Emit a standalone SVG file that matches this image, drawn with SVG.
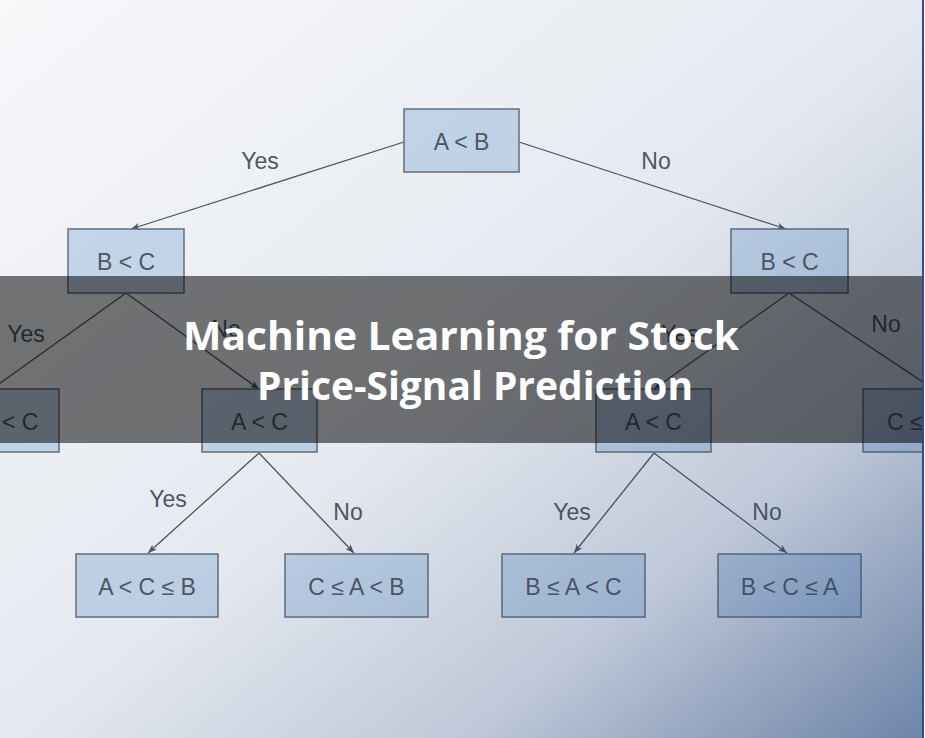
<svg xmlns="http://www.w3.org/2000/svg" width="925" height="738" viewBox="0 0 925 738">
<defs>
<linearGradient id="tint" x1="0" y1="0" x2="1" y2="1">
<stop offset="0" stop-color="#2a4a80" stop-opacity="0.04"/>
<stop offset="0.5" stop-color="#2a4a80" stop-opacity="0.12"/>
<stop offset="0.75" stop-color="#2a4a80" stop-opacity="0.3"/>
<stop offset="1" stop-color="#2a4a80" stop-opacity="0.68"/>
</linearGradient>
<marker id="arr" markerWidth="10" markerHeight="8" refX="9" refY="4" orient="auto" markerUnits="userSpaceOnUse">
<path d="M0,0.5 L9,4 L0,7.5 L2.5,4 Z" fill="#4f555c"/>
</marker>
<style>
.box{fill:#cfe0f1;stroke:#6b7178;stroke-width:1.5}
.nt{font-family:"Liberation Sans",Arial,sans-serif;font-size:23px;fill:#52575e;text-anchor:middle}
.el{font-family:"Liberation Sans",Arial,sans-serif;font-size:23px;fill:#52575e;text-anchor:middle}
.edge{stroke:#4f555c;stroke-width:1.3;fill:none}
.title{font-family:"Open Sans","DejaVu Sans",sans-serif;font-weight:700;font-size:40px;fill:#ffffff;text-anchor:middle}
</style>
</defs>
<rect x="0" y="0" width="925" height="738" fill="#ffffff"/>
<g id="connectors">
<line class="edge" x1="404" y1="142" x2="131" y2="229" marker-end="url(#arr)"/>
<line class="edge" x1="519" y1="142" x2="786" y2="229" marker-end="url(#arr)"/>
<line class="edge" x1="126" y1="293" x2="-8" y2="389"/>
<line class="edge" x1="126" y1="293" x2="259" y2="389" marker-end="url(#arr)"/>
<line class="edge" x1="789" y1="293" x2="654" y2="389" marker-end="url(#arr)"/>
<line class="edge" x1="789" y1="293" x2="935" y2="390"/>
<line class="edge" x1="259" y1="453" x2="148" y2="553" marker-end="url(#arr)"/>
<line class="edge" x1="259" y1="453" x2="354" y2="553" marker-end="url(#arr)"/>
<line class="edge" x1="654" y1="453" x2="574" y2="553" marker-end="url(#arr)"/>
<line class="edge" x1="654" y1="453" x2="787" y2="553" marker-end="url(#arr)"/>
<text class="el" x="260" y="169">Yes</text>
<text class="el" x="656" y="169">No</text>
<text class="el" x="26" y="342">Yes</text>
<text class="el" x="226" y="337">No</text>
<text class="el" x="680" y="342">Yes</text>
<text class="el" x="886" y="332">No</text>
<text class="el" x="168" y="507">Yes</text>
<text class="el" x="348" y="520">No</text>
<text class="el" x="572" y="520">Yes</text>
<text class="el" x="767" y="520">No</text>
</g>
<g id="n-ab"><rect class="box" x="404" y="109" width="115" height="63"/><text class="nt" x="461.5" y="150">A &lt; B</text></g>
<g id="n-bc-left"><rect class="box" x="68" y="229" width="116" height="64"/><text class="nt" x="126" y="270">B &lt; C</text></g>
<g id="n-bc-right"><rect class="box" x="731" y="229" width="117" height="64"/><text class="nt" x="789.5" y="270">B &lt; C</text></g>
<g id="n-ll"><rect class="box" x="-57" y="389" width="116" height="63"/><text class="nt" x="2" y="430" style="text-anchor:start">&lt; C</text></g>
<g id="n-ac-left"><rect class="box" x="202" y="389" width="115" height="63"/><text class="nt" x="259.5" y="430">A &lt; C</text></g>
<g id="n-ac-right"><rect class="box" x="596" y="389" width="115" height="63"/><text class="nt" x="653.5" y="430">A &lt; C</text></g>
<g id="n-rr"><rect class="box" x="863" y="389" width="116" height="63"/><text class="nt" x="887" y="430" style="text-anchor:start">C ≤</text></g>
<g id="n-leaf1"><rect class="box" x="76" y="554" width="142" height="63"/><text class="nt" x="147" y="595">A &lt; C ≤ B</text></g>
<g id="n-leaf2"><rect class="box" x="285" y="554" width="143" height="63"/><text class="nt" x="356.5" y="595">C ≤ A &lt; B</text></g>
<g id="n-leaf3"><rect class="box" x="502" y="554" width="143" height="63"/><text class="nt" x="573.5" y="595">B ≤ A &lt; C</text></g>
<g id="n-leaf4"><rect class="box" x="718" y="554" width="143" height="63"/><text class="nt" x="789.5" y="595">B &lt; C ≤ A</text></g>
<rect x="0" y="0" width="925" height="738" fill="url(#tint)"/>
<rect x="0" y="276" width="922" height="167" fill="#000000" fill-opacity="0.53"/>
<rect x="922" y="0" width="2" height="738" fill="#2e4f8c"/>
<rect x="924" y="0" width="1" height="738" fill="#ffffff"/>
<g id="title">
<text class="title" x="461" y="350" textLength="556" lengthAdjust="spacingAndGlyphs">Machine Learning for Stock</text>
<text class="title" x="475" y="400" textLength="436" lengthAdjust="spacingAndGlyphs">Price-Signal Prediction</text>
</g>
</svg>
